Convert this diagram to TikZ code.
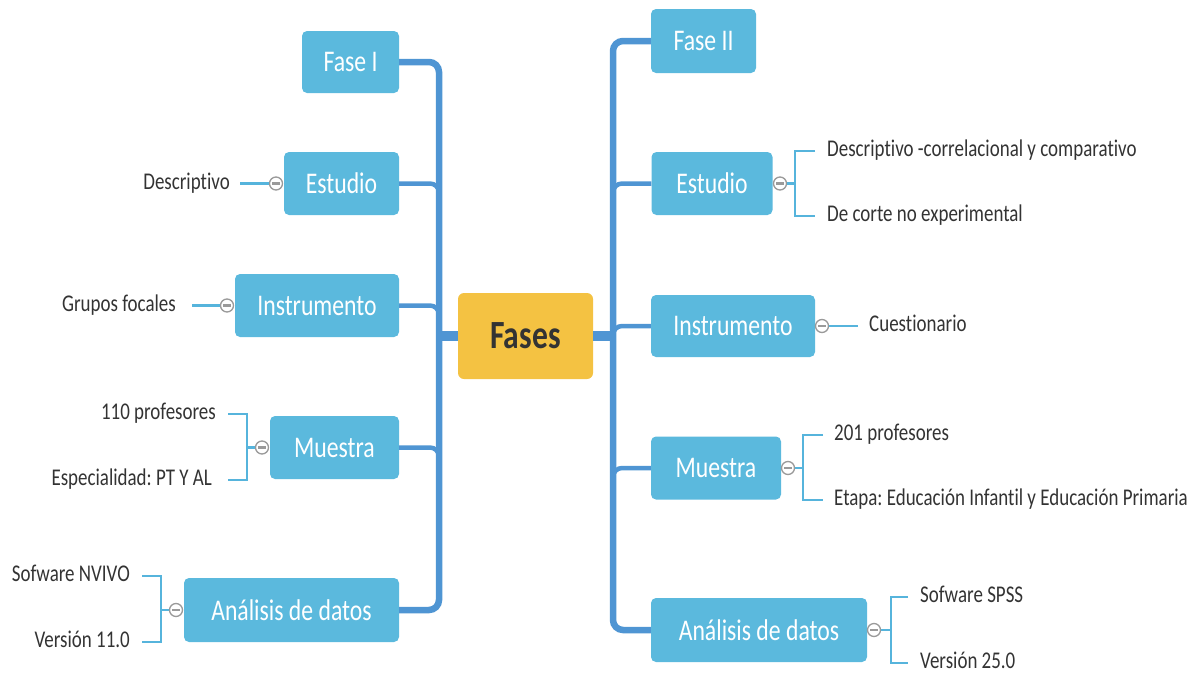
\documentclass[tikz,border=0pt]{standalone}
\usepackage{fontspec}
\setmainfont{Carlito}[FakeStretch=0.79, Ligatures=NoCommon]
\usetikzlibrary{calc}
\definecolor{boxc}{HTML}{5BB9DD}
\definecolor{trunkc}{HTML}{4F95D3}
\definecolor{leafc}{HTML}{56B4DC}
\definecolor{rootc}{HTML}{F4C242}
\definecolor{txtc}{HTML}{333333}
\definecolor{colc}{HTML}{9A9A9A}
\frenchspacing
\begin{document}
\begin{tikzpicture}[x=1pt,y=-1pt,
  kid/.style={fill=boxc, rounded corners=5pt, text=white, font=\fontsize{30}{36}\selectfont, inner sep=0pt},
  rootbox/.style={fill=rootc, rounded corners=6pt, text=txtc, font=\fontsize{40}{46}\selectfont\bfseries, inner sep=0pt, minimum width=135, minimum height=86},
  lf/.style={text=txtc, font=\fontsize{24}{28}\selectfont, inner sep=0pt, text height=15pt, text depth=4pt},
  colbtn/.style={circle, draw=colc, line width=1.3pt, fill=white, minimum size=13pt, inner sep=0pt,
    path picture={\draw[colc, line width=2.2pt] ([xshift=-3.8pt]path picture bounding box.center) -- ([xshift=3.8pt]path picture bounding box.center);}},
  rootline/.style={trunkc, line width=10pt},
  trunk/.style={trunkc, line width=6.5pt, rounded corners=10pt},
  branch/.style={trunkc, line width=4.5pt, rounded corners=9pt},
  leafline/.style={leafc, line width=2.2pt}
]
\useasboundingbox (0,0) rectangle (1200,675);

% root
\node[rootbox] (root) at (525.5,336) {Fases};
\coordinate (LT) at (439,336);
\coordinate (RT) at (613,336);

% left children
\node[kid, minimum width=97,  minimum height=62] (fI) at (350.5,62) {Fase I};
\node[kid, minimum width=115, minimum height=63] (eL) at (341.5,183.5) {Estudio};
\node[kid, minimum width=164, minimum height=63] (iL) at (317,305.5) {Instrumento};
\node[kid, minimum width=129, minimum height=63] (mL) at (334.5,447.5) {Muestra};
\node[kid, minimum width=215, minimum height=64] (aL) at (291.5,610) {Análisis de datos};

% right children
\node[kid, minimum width=105, minimum height=64] (fII) at (703.5,41) {Fase II};
\node[kid, minimum width=121, minimum height=63] (eR) at (712,183.5) {Estudio};
\node[kid, minimum width=164, minimum height=62] (iR) at (733,326) {Instrumento};
\node[kid, minimum width=130, minimum height=63] (mR) at (716,468) {Muestra};
\node[kid, minimum width=216, minimum height=64] (aR) at (759,630) {Análisis de datos};

% trunks
\draw[rootline] (root.west) -- (LT);
\draw[rootline] (root.east) -- (RT);
\draw[trunk] (fI.east) -| (LT) |- (aL.east);
\draw[trunk] (fII.west) -| (RT) |- (aR.west);
\draw[branch] (eL.east) -| ($(eL.east -| LT)+(0,16)$);
\draw[branch] (iL.east) -| ($(iL.east -| LT)+(0,16)$);
\draw[branch] (mL.east) -| ($(mL.east -| LT)+(0,16)$);
\draw[branch] ($(eR.west -| RT)+(0,16)$) |- (eR.west);
\draw[branch] ($(iR.west -| RT)+(0,16)$) |- (iR.west);
\draw[branch] ($(mR.west -| RT)+(0,16)$) |- (mR.west);

% collapse buttons
\node[colbtn] (ceL) at (276,183.5) {};
\node[colbtn] (ciL) at (227,305.5) {};
\node[colbtn] (cmL) at (262,447.5) {};
\node[colbtn] (caL) at (176,610) {};
\node[colbtn] (ceR) at (780,183.5) {};
\node[colbtn] (ciR) at (822,326) {};
\node[colbtn] (cmR) at (788,468) {};
\node[colbtn] (caR) at (874,630) {};

% left leaves
\node[lf, anchor=east] (leL) at (230,183.5) {Descriptivo};
\node[lf, anchor=east] (liL) at (176,305.5) {Grupos focales};
\node[lf, anchor=east] (lm1L) at (216,414) {110 profesores};
\node[lf, anchor=east] (lm2L) at (212,480) {Especialidad: PT Y AL};
\node[lf, anchor=east] (la1L) at (130,576) {Sofware NVIVO};
\node[lf, anchor=east] (la2L) at (130,642) {Versión 11.0};

% right leaves
\node[lf, anchor=west] (le1R) at (827,151) {Descriptivo -correlacional y comparativo};
\node[lf, anchor=west] (le2R) at (827,216) {De corte no experimental};
\node[lf, anchor=west] (liR) at (869,326) {Cuestionario};
\node[lf, anchor=west] (lm1R) at (834,435) {201 profesores};
\node[lf, anchor=west] (lm2R) at (834,500) {Etapa: Educación Infantil y Educación Primaria};
\node[lf, anchor=west] (la1R) at (920,597) {Sofware SPSS};
\node[lf, anchor=west] (la2R) at (920,663) {Versión 25.0};

% bracket coordinates
\coordinate (bmL) at (247,447.5);
\coordinate (smL) at (228,447.5);
\coordinate (baL) at (161,610);
\coordinate (saL) at (142,610);
\coordinate (beR) at (795,183.5);
\coordinate (seR) at (815,183.5);
\coordinate (bmR) at (803,468);
\coordinate (smR) at (823,468);
\coordinate (baR) at (891,630);
\coordinate (saR) at (908,630);

% leaf connectors
\draw[leafline] ([xshift=10pt]leL.east) -- (ceL.west);
\draw[leafline] ([xshift=16pt]liL.east) -- (ciL.west);
\draw[leafline] (cmL.west) -- (bmL);
\draw[leafline] (lm1L.east -| smL) -| (bmL) |- (lm2L.east -| smL);
\draw[leafline] (caL.west) -- (baL);
\draw[leafline] (la1L.east -| saL) -| (baL) |- (la2L.east -| saL);
\draw[leafline] (ceR.east) -- (beR);
\draw[leafline] (le1R.west -| seR) -| (beR) |- (le2R.west -| seR);
\draw[leafline] (ciR.east) -- ([xshift=-11pt]liR.west);
\draw[leafline] (cmR.east) -- (bmR);
\draw[leafline] (lm1R.west -| smR) -| (bmR) |- (lm2R.west -| smR);
\draw[leafline] (caR.east) -- (baR);
\draw[leafline] (la1R.west -| saR) -| (baR) |- (la2R.west -| saR);
\end{tikzpicture}
\end{document}
